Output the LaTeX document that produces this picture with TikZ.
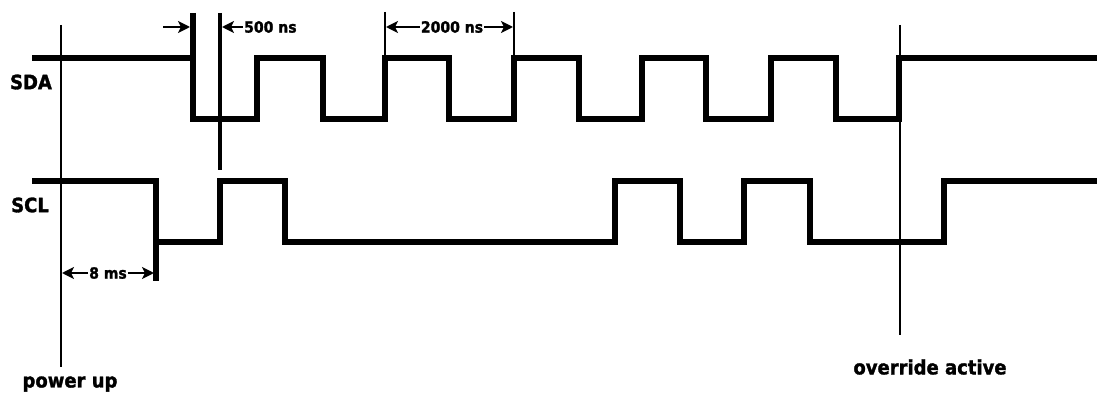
\documentclass[tikz,border=0pt]{standalone}
\usepackage{fontspec}
\setmainfont{DejaVu Sans}[BoldFeatures={FakeBold=1.6}]
\usetikzlibrary{arrows.meta}
\tikzset{
  signal/.style={line width=5.5pt, line join=miter, line cap=butt},
  marker/.style={line width=1.8pt},
  thickmarker/.style={line width=3.5pt},
  dim/.style={line width=2.6pt, -{Stealth[length=12pt,width=12pt,inset=3pt]}},
  lbl/.style={font=\fontsize{18}{20}\selectfont\bfseries, inner sep=0pt, yscale=1.1},
  dimlbl/.style={font=\fontsize{14}{16}\selectfont\bfseries, inner sep=1pt, fill=white, yscale=1.1},
}
\begin{document}
\begin{tikzpicture}[x=1pt,y=-1pt]
\useasboundingbox (0,0) rectangle (1097,395);
% labels
\node[lbl] (sda) at (31,82) {SDA};
\node[lbl] (scl) at (30,205) {SCL};
\node[lbl] (pu) at (70,384) {power up};
\node[lbl] (ov) at (930,367) {override active};
% vertical reference lines
\coordinate (puT) at (61,25); \coordinate (puB) at (61,367);
\draw[marker] (puT) -- (puB);
\coordinate (ovT) at (900,25); \coordinate (ovB) at (900,335);
\draw[marker] (ovT) -- (ovB);
% SDA
\draw[signal] (32,58) -- (193,58) -- (193,119) -- (257,119) -- (257,58) -- (323,58) -- (323,119) -- (385,119) -- (385,58) -- (449,58) -- (449,119) -- (514,119) -- (514,58) -- (579,58) -- (579,119) -- (642,119) -- (642,58) -- (706,58) -- (706,119) -- (771,119) -- (771,58) -- (836,58) -- (836,119) -- (899,119) -- (899,58) -- (1097,58);
% SCL
\draw[signal] (32,181) -- (156,181) -- (156,242) -- (220,242) -- (220,181) -- (285,181) -- (285,242) -- (615,242) -- (615,181) -- (680,181) -- (680,242) -- (744,242) -- (744,181) -- (810,181) -- (810,242) -- (944,242) -- (944,181) -- (1097,181);
% markers
\coordinate (m1T) at (193,13); \coordinate (m1B) at (193,58);
\draw[signal] (m1T) -- (m1B);
\coordinate (m2T) at (220,13); \coordinate (m2B) at (220,170);
\draw[thickmarker] (m2T) -- (m2B);
\coordinate (m3T) at (385,12); \coordinate (m3B) at (385,58);
\draw[marker] (m3T) -- (m3B);
\coordinate (m4T) at (514,12); \coordinate (m4B) at (514,58);
\draw[marker] (m4T) -- (m4B);
\coordinate (m5T) at (156,242); \coordinate (m5B) at (156,281);
\draw[signal] (m5T) -- (m5B);
% dimension arrows
\coordinate (a1s) at (163,27); \coordinate (a1e) at (190,27);
\draw[dim] (a1s) -- (a1e);
\node[dimlbl, anchor=west] (d500) at (243,27) {500 ns};
\coordinate (a2e) at (222,27);
\draw[dim] (d500.west) -- (a2e);
\node[dimlbl] (d2000) at (452,27) {2000 ns};
\coordinate (a3l) at (386,27); \coordinate (a3r) at (513,27);
\draw[dim] (d2000.west) -- (a3l);
\draw[dim] (d2000.east) -- (a3r);
\node[dimlbl] (d8) at (108,273) {8 ms};
\coordinate (a4l) at (62,273); \coordinate (a4r) at (154,273);
\draw[dim] (d8.west) -- (a4l);
\draw[dim] (d8.east) -- (a4r);
\end{tikzpicture}
\end{document}
